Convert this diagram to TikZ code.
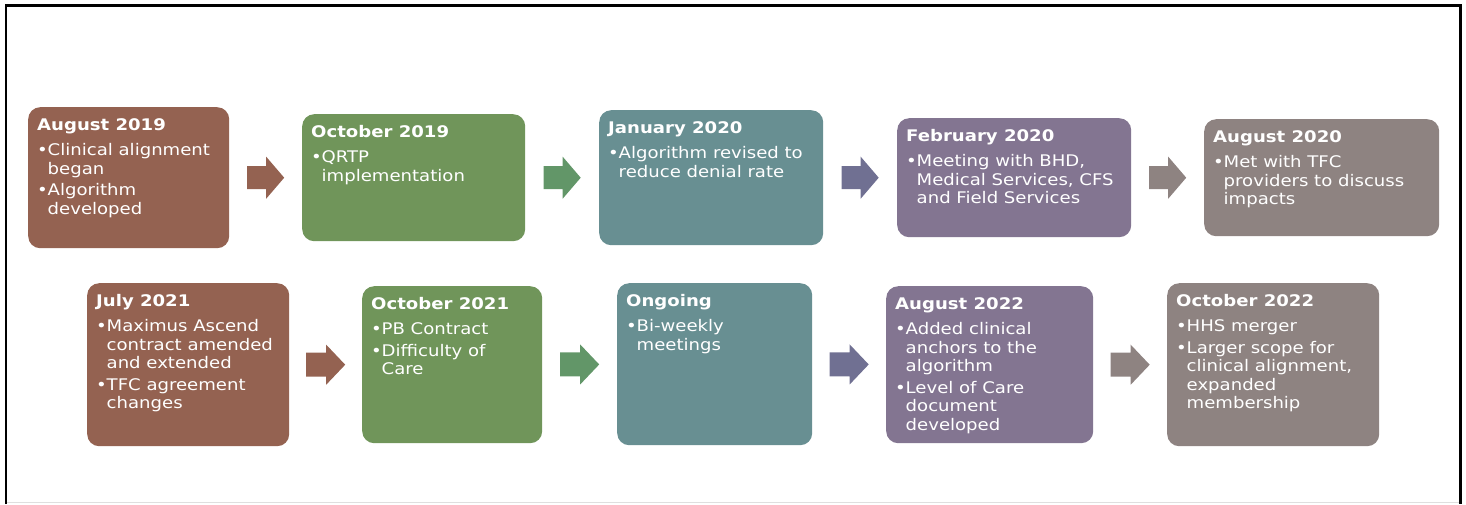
\documentclass[tikz,border=0pt]{standalone}
\usepackage{fontspec}
\setmainfont[FakeStretch=1.13]{DejaVu Sans}
\usetikzlibrary{positioning,calc}
\definecolor{rust}{RGB}{148,98,81}
\definecolor{moss}{RGB}{112,149,90}
\definecolor{slate}{RGB}{104,143,146}
\definecolor{plum}{RGB}{131,117,145}
\definecolor{taupe}{RGB}{142,131,129}
\definecolor{mossarrow}{RGB}{98,150,104}
\definecolor{plumarrow}{RGB}{112,112,146}

\tikzset{
  stage/.style={fill=#1, rounded corners=12pt, anchor=north west,
    inner xsep=9pt, inner ysep=11pt, text=white},
}

% box text: outer width, outer height, title, items
\newcommand\stagetext[4]{%
  \parbox[c][\dimexpr#2pt-22pt\relax][t]{\dimexpr#1pt-18pt\relax}{%
    \raggedright\fontsize{16}{18.5}\selectfont
    {\bfseries #3}\par\vspace{4pt}#4}}
\newcommand\stageitem{\par\vspace{3pt}\hangindent=10.5pt\hangafter=1
  \noindent\makebox[10.5pt][l]{\textbullet}}

\begin{document}
\begin{tikzpicture}[x=1pt,y=-1pt]
  \useasboundingbox (0,0) rectangle (1466,504);
  % frame
  \draw[gray!25] (6,502) -- (1460,502);
  \draw[line width=2.5pt] (6,504) -- (6,5.5) -- (1460.5,5.5) -- (1460.5,504);

  % first row
  \node[stage=rust] (aug19) at (28,107)
    {\stagetext{201}{141}{August 2019}{\stageitem Clinical alignment\newline began\stageitem Algorithm\newline developed}};
  \node[stage=moss] (oct19) at (302,114)
    {\stagetext{223}{127}{October 2019}{\stageitem QRTP\newline implementation}};
  \node[stage=slate] (jan20) at (599,110)
    {\stagetext{224}{135}{January 2020}{\stageitem Algorithm revised to\newline reduce denial rate}};
  \node[stage=plum] (feb20) at (897,118)
    {\stagetext{234}{119}{February 2020}{\stageitem Meeting with BHD,\newline Medical Services, CFS\newline and Field Services}};
  \node[stage=taupe] (aug20) at (1204,119)
    {\stagetext{235}{117}{August 2020}{\stageitem Met with TFC\newline providers to discuss\newline impacts}};

  % second row
  \node[stage=rust] (jul21) at (87,283)
    {\stagetext{202}{163}{July 2021}{\stageitem Maximus Ascend\newline contract amended\newline and extended\stageitem TFC agreement\newline changes}};
  \node[stage=moss] (oct21) at (362,286)
    {\stagetext{180}{157}{October 2021}{\stageitem PB Contract\stageitem Difficulty of\newline Care}};
  \node[stage=slate] (ongoing) at (617,283)
    {\stagetext{195}{162}{Ongoing}{\stageitem Bi-weekly\newline meetings}};
  \node[stage=plum] (aug22) at (886,286)
    {\stagetext{207}{157}{August 2022}{\stageitem Added clinical\newline anchors to the\newline algorithm\stageitem Level of Care\newline document\newline developed}};
  \node[stage=taupe] (oct22) at (1167,283)
    {\stagetext{212}{163}{October 2022}{\stageitem HHS merger\stageitem Larger scope for\newline clinical alignment,\newline expanded\newline membership}};

  % block arrows between the stages
  \fill[rust] ($(aug19.east)!.5!(oct19.west)$) ++(-18.5,-11.5) -- ++(19,0) -- ++(0,-9.5) -- ++(18,21) -- ++(-18,21) -- ++(0,-9.5) -- ++(-19,0) -- cycle;
  \fill[mossarrow] ($(oct19.east)!.5!(jan20.west)$) ++(-18.5,-11.5) -- ++(19,0) -- ++(0,-9.5) -- ++(18,21) -- ++(-18,21) -- ++(0,-9.5) -- ++(-19,0) -- cycle;
  \fill[plumarrow] ($(jan20.east)!.5!(feb20.west)$) ++(-18.5,-11.5) -- ++(19,0) -- ++(0,-9.5) -- ++(18,21) -- ++(-18,21) -- ++(0,-9.5) -- ++(-19,0) -- cycle;
  \fill[taupe] ($(feb20.east)!.5!(aug20.west)$) ++(-18.5,-11.5) -- ++(19,0) -- ++(0,-9.5) -- ++(18,21) -- ++(-18,21) -- ++(0,-9.5) -- ++(-19,0) -- cycle;

  \fill[rust] ($(jul21.east)!.5!(oct21.west)$) ++(-19.5,-12) -- ++(20,0) -- ++(0,-8) -- ++(19,20) -- ++(-19,20) -- ++(0,-8) -- ++(-20,0) -- cycle;
  \fill[mossarrow] ($(oct21.east)!.5!(ongoing.west)$) ++(-19.5,-12) -- ++(20,0) -- ++(0,-8) -- ++(19,20) -- ++(-19,20) -- ++(0,-8) -- ++(-20,0) -- cycle;
  \fill[plumarrow] ($(ongoing.east)!.5!(aug22.west)$) ++(-19.5,-12) -- ++(20,0) -- ++(0,-8) -- ++(19,20) -- ++(-19,20) -- ++(0,-8) -- ++(-20,0) -- cycle;
  \fill[taupe] ($(aug22.east)!.5!(oct22.west)$) ++(-19.5,-12) -- ++(20,0) -- ++(0,-8) -- ++(19,20) -- ++(-19,20) -- ++(0,-8) -- ++(-20,0) -- cycle;
\end{tikzpicture}
\end{document}
